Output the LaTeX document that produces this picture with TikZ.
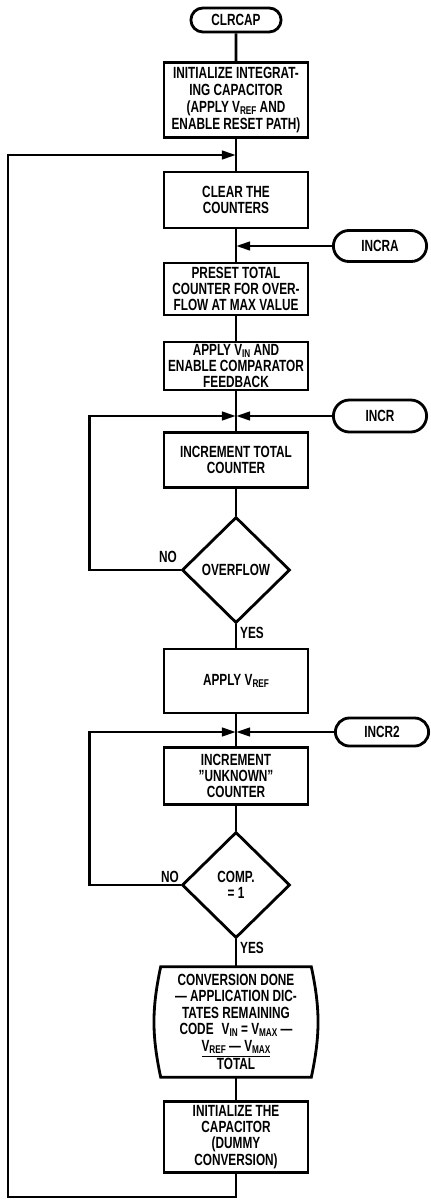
\documentclass[tikz,border=0pt]{standalone}
\usepackage{fontspec}
\setmainfont{Liberation Sans}[FakeStretch=0.73]
\usepackage{tikz}
\usetikzlibrary{positioning,arrows.meta,shapes.geometric,shapes.misc}
\newcommand{\vsub}[1]{V\raisebox{-0.25ex}{\fontsize{8}{8}\selectfont #1}}

\begin{document}
\begin{tikzpicture}[
  x=0.025cm, y=-0.025cm,
  every node/.style={font=\fontsize{11.5}{11.5}\selectfont\bfseries},
  box/.style={
    draw, line width=2pt, minimum width=3.6cm,
    align=center, inner sep=1pt
  },
  term/.style={
    draw, rounded rectangle, line width=2pt,
    minimum width=2.4cm, inner sep=1pt
  },
  decision/.style={
    draw, diamond, line width=2pt, align=center,
    minimum width=2.7cm, minimum height=2.65cm, inner sep=0pt
  },
  lbl/.style={inner sep=0pt},
  flow/.style={line width=2pt},
  arr/.style={flow, -{Triangle[length=10pt,width=6pt]}}
]
\useasboundingbox (0,0) rectangle (431,1201);

% Terminales
\node[term, minimum width=2.325cm, minimum height=0.6cm] (clrcap) at (236,20) {CLRCAP};
\node[term, minimum height=0.775cm] (incra) at (380,246) {INCRA};
\node[term, minimum height=0.8cm] (incr) at (380,416) {INCR};
\node[term, minimum height=0.7cm] (incr2) at (382,732) {INCR2};

% Pasos
\node[box, minimum height=1.875cm, font=\fontsize{11.5}{12}\selectfont\bfseries] (init) at (236,100)
  {INITIALIZE INTEGRAT-\\ING CAPACITOR\\(APPLY \vsub{REF} AND\\ENABLE RESET PATH)};
\node[box, minimum height=1.4cm] (clear) at (236,200) {CLEAR THE\\COUNTERS};
\node[box, minimum height=1.3cm] (preset) at (236,289) {PRESET TOTAL\\COUNTER FOR OVER-\\FLOW AT MAX VALUE};
\node[box, minimum height=1.2cm] (applyvin) at (236,366) {APPLY \vsub{IN} AND\\ENABLE COMPARATOR\\FEEDBACK};
\node[box, minimum height=1.375cm] (inctot) at (236,460) {INCREMENT TOTAL\\COUNTER};
\node[box, minimum height=1.6cm] (applyvref) at (236,681) {APPLY \vsub{REF}};
\node[box, minimum height=1.425cm] (incunk) at (236,776) {INCREMENT\\''UNKNOWN''\\COUNTER};
\node[box, minimum height=1.775cm] (initcap) at (236,1137) {INITIALIZE THE\\CAPACITOR\\(DUMMY\\CONVERSION)};

% Decisiones
\node[decision] (overflow) at (236,570) {OVERFLOW};
\node[decision] (comp) at (236,885) {COMP.\\= 1};

% Resultado
\node[minimum width=3.75cm, minimum height=2.75cm, align=center, inner sep=1pt,
  font=\fontsize{11.5}{11.5}\selectfont\bfseries] (done) at (236,1022)
  {CONVERSION DONE\\--- APPLICATION DIC-\\TATES REMAINING\\CODE\enspace \vsub{IN} = \vsub{MAX} ---\\[1pt]\underline{\vsub{REF} --- \vsub{MAX}}\\TOTAL};
\draw[flow] (done.north) -- (done.north east) to[bend left=12] (done.south east)
  -- (done.south west) to[bend left=12] (done.north west) -- (done.north);

% Etiquetas
\node[lbl] (no1) at (168,557) {NO};
\node[lbl] (yes1) at (252,633) {YES};
\node[lbl] (no2) at (170,877) {NO};
\node[lbl] (yes2) at (252,948) {YES};

% Uniones
\coordinate (jtop) at (236,155);
\coordinate (ja) at (236,246);
\coordinate (jb) at (236,416);
\coordinate (jc) at (236,732);
\coordinate (bot) at (236,1197);
\coordinate (botl) at (8,1197);

% Flujo principal
\draw[flow] (clrcap) -- (init);
\draw[flow] (init) -- (clear);
\draw[flow] (clear) -- (preset);
\draw[flow] (preset) -- (applyvin);
\draw[flow] (applyvin) -- (inctot);
\draw[flow] (inctot) -- (overflow);
\draw[flow] (overflow) -- (applyvref);
\draw[flow] (applyvref) -- (incunk);
\draw[flow] (incunk) -- (comp);
\draw[flow] (comp) -- (done);
\draw[flow] (done) -- (initcap);

% Entradas
\draw[arr] (incra) -- (ja);
\draw[arr] (incr) -- (jb);
\draw[arr] (incr2) -- (jc);

% Lazos
\draw[arr] (overflow.west) -- ++(-91,0) |- (jb);
\draw[arr] (comp.west) -- ++(-91,0) |- (jc);
\draw[arr] (initcap) -- (bot) -- (botl) |- (jtop);
\end{tikzpicture}
\end{document}
